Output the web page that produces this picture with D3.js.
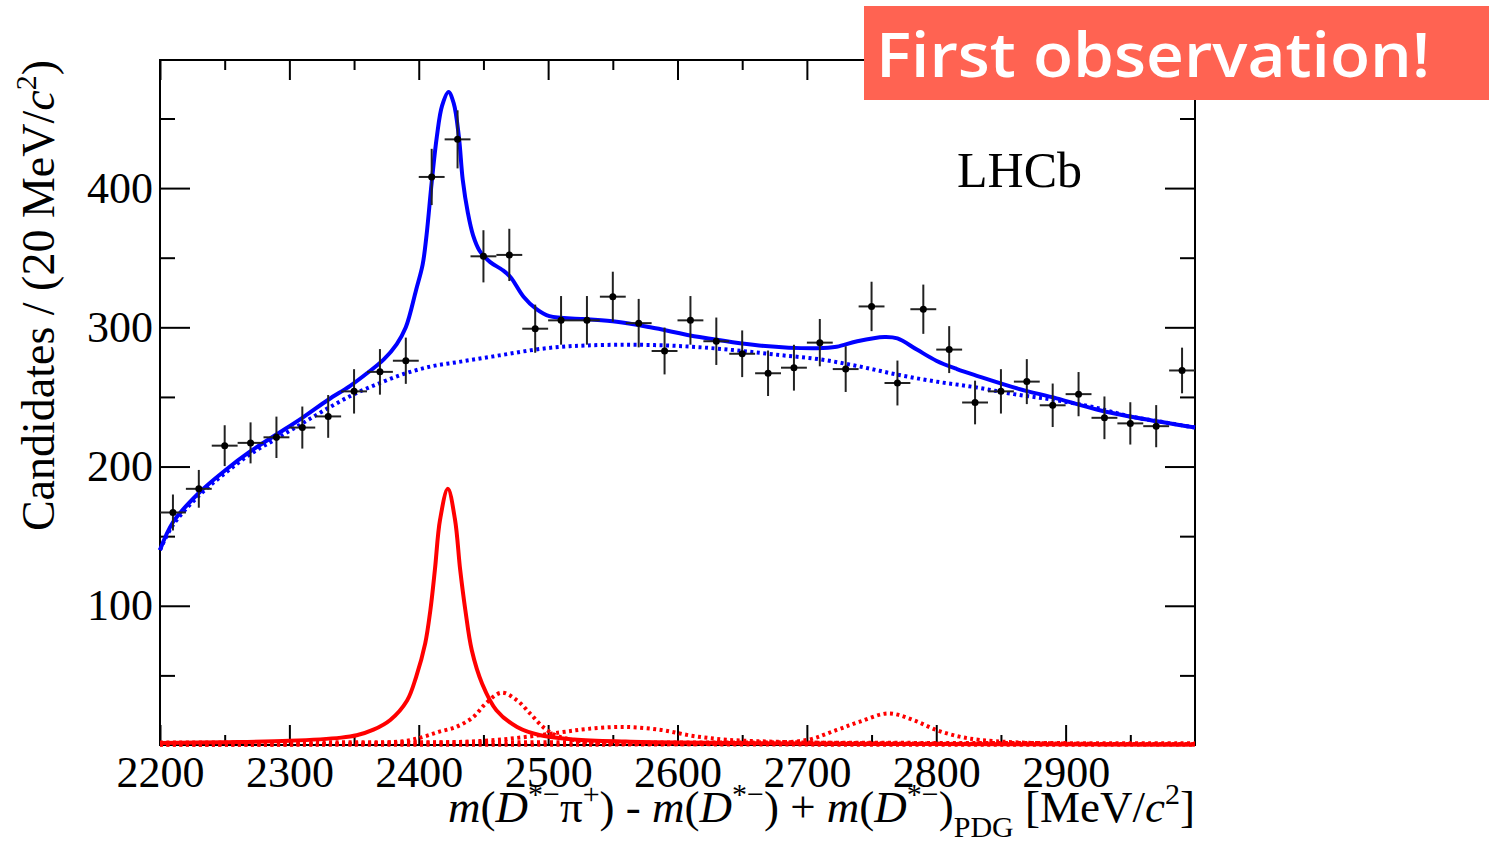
<!DOCTYPE html>
<html lang="en">

<head>
  <meta charset="UTF-8">
  <title>LHCb D*pi mass</title>
  <style>
    body {
      margin: 0;
      background: #fff;
    }

    svg text {
      font-family: "Liberation Serif", "Times New Roman", serif;
    }

    .axis path.domain {
      display: none;
    }

    .axis line {
      stroke: #000;
      stroke-width: 2;
    }
  </style>
</head>

<body>
  <div id="chart"></div>
  <script src="https://cdn.jsdelivr.net/npm/d3@7"></script>
  <script>
    // bin centres (20 MeV bins) and candidates per bin
    const binCentres = [2210, 2230, 2250, 2270, 2290, 2310, 2330, 2350, 2370, 2390,
      2410, 2430, 2450, 2470, 2490, 2510, 2530, 2550, 2570, 2590,
      2610, 2630, 2650, 2670, 2690, 2710, 2730, 2750, 2770, 2790,
      2810, 2830, 2850, 2870, 2890, 2910, 2930, 2950, 2970, 2990];
    const candidates = [167, 184, 215, 217, 221, 228, 236, 254, 268, 276,
      408, 435, 351, 352, 299, 305, 305, 322, 303, 283,
      305, 290, 281, 267, 271, 289, 270, 315, 260, 313,
      284, 246, 254, 261, 244, 252, 235, 231, 229, 269];

    // fit curves: [mass, candidates]
    const totalFit = [[2200, 140], [2210, 160], [2230, 181], [2250, 197], [2270, 211], [2290, 223],
      [2310, 235], [2330, 248], [2347, 258], [2360, 267], [2373, 277], [2383, 288], [2390, 300],
      [2398, 327], [2403, 345], [2406, 366], [2410, 404], [2414, 437], [2418, 459], [2423, 469],
      [2427, 461], [2431, 437], [2434, 406], [2438, 382], [2442, 366], [2447, 355], [2455, 347],
      [2465, 341], [2471, 336], [2481, 322], [2491, 313], [2501, 308], [2527, 306], [2553, 304],
      [2579, 300], [2617, 293], [2663, 287], [2708, 285], [2723, 286], [2739, 290], [2760, 293],
      [2770, 292], [2785, 284], [2800, 276], [2816, 270], [2832, 265], [2863, 256], [2893, 249],
      [2924, 241], [2955, 235], [3000, 228]];
    const background = [[2200, 140], [2210, 158], [2230, 179], [2250, 195], [2270, 209], [2290, 220],
      [2310, 231], [2330, 242], [2350, 252], [2370, 260], [2390, 267], [2410, 272], [2430, 275],
      [2450, 278], [2470, 281], [2490, 284], [2510, 286], [2530, 287], [2560, 287.5], [2590, 287],
      [2620, 285.5], [2650, 283], [2680, 280], [2710, 277], [2740, 272], [2770, 266], [2800, 261],
      [2830, 257], [2860, 252], [2890, 248], [2920, 243], [2950, 236], [2975, 232], [3000, 228]];
    const peak2420 = [[2200, 1.5], [2250, 2], [2300, 3], [2340, 5.3], [2352, 7], [2365, 11], [2378, 18],
      [2391, 32], [2398, 49], [2405, 73], [2409, 97], [2412.5, 126], [2416.5, 162], [2422.5, 184],
      [2428, 162], [2432, 126], [2436, 97], [2441, 68], [2449, 44], [2460, 25], [2476, 13],
      [2494, 7], [2520, 4], [2560, 2.5], [2600, 1.8], [2700, 1.1], [2800, 0.7], [3000, 0.4]];
    const peak2460 = [[2200, 0.3], [2350, 1], [2390, 3], [2404, 6], [2416, 9.6], [2429, 13], [2442, 20],
      [2452, 30], [2464, 37.6], [2476, 32], [2486, 22.7], [2496, 13], [2506, 7], [2520, 3.5],
      [2540, 1.5], [2600, 0.6], [3000, 0.2]];
    const peak2550 = [[2200, 0.3], [2400, 1.5], [2450, 3], [2480, 5.5], [2509, 9], [2530, 11.5],
      [2557, 13], [2586, 11], [2612, 6.5], [2638, 3.8], [2670, 2.5], [2700, 1.8], [2800, 1], [3000, 0.5]];
    const peak2760 = [[2200, 0.3], [2600, 0.5], [2660, 1.5], [2700, 3.6], [2723, 10.8], [2741, 16.8],
      [2763, 22.7], [2782, 18], [2800, 10.8], [2818, 6], [2834, 3.6], [2860, 2], [2900, 1], [3000, 0.5]];
    const flatTail = [[2200, 1.8], [2400, 2], [2600, 1.8], [2800, 1.5], [3000, 1.2]];

    const xTicks = [2200, 2300, 2400, 2500, 2600, 2700, 2800, 2900];
    const xMinorTicks = [2250, 2350, 2450, 2550, 2650, 2750, 2850, 2950];
    const yTicks = [100, 200, 300, 400];
    const yMinorTicks = [50, 150, 250, 350, 450];

    const width = 1489, height = 844;
    const padL = 160, padR = 1195, padT = 60, padB = 745;

    const svg = d3.select('#chart').append('svg')
      .attr('width', width)
      .attr('height', height);

    const x = d3.scaleLinear().domain([2200, 3000]).range([padL, padR]);
    const y = d3.scaleLinear().domain([0, 492]).range([padB, padT]);

    // frame
    svg.append('rect')
      .attr('x', padL).attr('y', padT)
      .attr('width', padR - padL).attr('height', padB - padT)
      .attr('fill', 'none').attr('stroke', '#000').attr('stroke-width', 2);

    // ROOT style ticks on all four sides, pointing inwards
    function addAxis(axis, tx, ty) {
      const g = svg.append('g').attr('class', 'axis')
        .attr('transform', `translate(${tx},${ty})`)
        .call(axis);
      g.selectAll('text')
        .attr('fill', '#000')
        .style('font-size', '44px');
      return g;
    }
    addAxis(d3.axisBottom(x).tickValues(xTicks).tickSizeInner(-20).tickSizeOuter(0)
      .tickPadding(11).tickFormat(d3.format('d')), 0, padB);
    addAxis(d3.axisBottom(x).tickValues(xMinorTicks).tickSizeInner(-10).tickSizeOuter(0)
      .tickFormat(''), 0, padB);
    addAxis(d3.axisTop(x).tickValues(xTicks).tickSizeInner(-20).tickSizeOuter(0).tickFormat(''), 0, padT);
    addAxis(d3.axisTop(x).tickValues(xMinorTicks).tickSizeInner(-10).tickSizeOuter(0).tickFormat(''), 0, padT);
    addAxis(d3.axisLeft(y).tickValues(yTicks).tickSizeInner(-30).tickSizeOuter(0)
      .tickPadding(7).tickFormat(d3.format('d')), padL, 0);
    addAxis(d3.axisLeft(y).tickValues(yMinorTicks).tickSizeInner(-15).tickSizeOuter(0).tickFormat(''), padL, 0);
    addAxis(d3.axisRight(y).tickValues(yTicks).tickSizeInner(-30).tickSizeOuter(0).tickFormat(''), padR, 0);
    addAxis(d3.axisRight(y).tickValues(yMinorTicks).tickSizeInner(-15).tickSizeOuter(0).tickFormat(''), padR, 0);

    // fit curves
    const line = d3.line()
      .x(d => x(d[0]))
      .y(d => y(d[1]))
      .curve(d3.curveCatmullRom.alpha(0.5));

    function drawCurve(data, color, dashed) {
      svg.append('path')
        .datum(data)
        .attr('d', line)
        .attr('fill', 'none')
        .attr('stroke', color)
        .attr('stroke-width', 4)
        .attr('stroke-dasharray', dashed ? '3,3.5' : null);
    }

    drawCurve(flatTail, '#ff0000', true);
    drawCurve(peak2550, '#ff0000', true);
    drawCurve(peak2460, '#ff0000', true);
    drawCurve(peak2760, '#ff0000', true);
    drawCurve(peak2420, '#ff0000', false);
    drawCurve(background, '#0000ff', true);
    drawCurve(totalFit, '#0000ff', false);

    // data points with poisson errors and bin width
    const pts = svg.append('g').selectAll('g')
      .data(binCentres.map((m, i) => ({ m: m, n: candidates[i] })))
      .join('g');
    pts.append('line')
      .attr('x1', d => x(d.m)).attr('x2', d => x(d.m))
      .attr('y1', d => y(d.n - Math.sqrt(d.n))).attr('y2', d => y(d.n + Math.sqrt(d.n)))
      .attr('stroke', '#222').attr('stroke-width', 2);
    pts.append('line')
      .attr('x1', d => x(d.m - 10)).attr('x2', d => x(d.m + 10))
      .attr('y1', d => y(d.n)).attr('y2', d => y(d.n))
      .attr('stroke', '#222').attr('stroke-width', 2);
    pts.append('circle')
      .attr('cx', d => x(d.m)).attr('cy', d => y(d.n))
      .attr('r', 3.5).attr('fill', '#000');

    // LHCb label
    svg.append('text')
      .attr('x', 957).attr('y', 187)
      .style('font-size', '50px')
      .text('LHCb');

    // y title
    const yTitle = svg.append('text')
      .attr('transform', 'translate(54,60) rotate(-90)')
      .attr('text-anchor', 'end')
      .style('font-size', '46px');
    yTitle.append('tspan').text('Candidates / (20 MeV/');
    yTitle.append('tspan').style('font-style', 'italic').text('c');
    yTitle.append('tspan').attr('dy', -18).style('font-size', '30px').text('2');
    yTitle.append('tspan').attr('dy', 18).text(')');

    // x title
    const xTitle = svg.append('text')
      .attr('x', padR).attr('y', 822)
      .attr('text-anchor', 'end')
      .style('font-size', '45px');
    const parts = [
      ['m', 'i'], ['(', ''], ['D', 'i'], ['*\u2212', 'sup'], ['\u03c0', ''], ['+', 'sup'], [') - ', ''],
      ['m', 'i'], ['(', ''], ['D', 'i'], ['*\u2212', 'sup'], [') + ', ''],
      ['m', 'i'], ['(', ''], ['D', 'i'], ['*\u2212', 'sup'], [')', ''], ['PDG', 'sub'],
      [' [MeV/', ''], ['c', 'i'], ['2', 'sup'], [']', '']
    ];
    let shift = 0;
    parts.forEach(p => {
      const want = p[1] === 'sup' ? -18 : p[1] === 'sub' ? 15 : 0;
      const t = xTitle.append('tspan')
        .attr('dy', want - shift)
        .text(p[0]);
      shift = want;
      if (p[1] === 'i') t.style('font-style', 'italic');
      if (p[1] === 'sup' || p[1] === 'sub') t.style('font-size', '30px');
    });

    // banner on top
    svg.append('rect')
      .attr('x', 864).attr('y', 6)
      .attr('width', width - 864).attr('height', 94)
      .attr('fill', '#ff6352');
    svg.append('text')
      .attr('x', 876).attr('y', 77)
      .attr('fill', '#fff')
      .attr('textLength', 554)
      .attr('lengthAdjust', 'spacingAndGlyphs')
      .style('font-family', '"Open Sans", sans-serif')
      .style('font-weight', 600)
      .style('font-size', '62px')
      .text('First observation!');
  </script>
</body>

</html>
